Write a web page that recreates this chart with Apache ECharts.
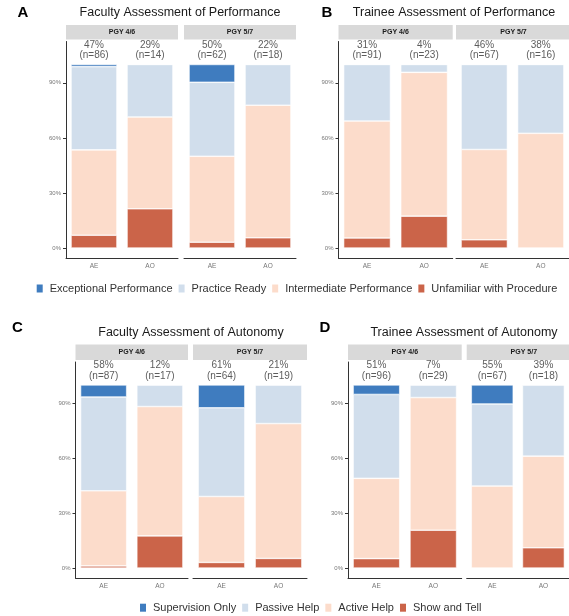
<!DOCTYPE html>
<html>
<head>
<meta charset="utf-8">
<script src="https://cdn.jsdelivr.net/npm/echarts@6/dist/echarts.min.js"></script>
<style>html,body{margin:0;padding:0;background:#fff}#c{width:569px;height:616px}</style>
</head>
<body>
<div id="c"></div>
<script>
// ---------- DATA ----------
const categories = ['AE', 'AO'];
const facets = ['PGY 4/6', 'PGY 5/7'];
const perfLevels = ['Exceptional Performance', 'Practice Ready', 'Intermediate Performance', 'Unfamiliar with Procedure'];
const autoLevels = ['Supervision Only', 'Passive Help', 'Active Help', 'Show and Tell'];
const yTicks = [0, 30, 60, 90];

// Panel A: Faculty Assessment of Performance (% per facet, [AE, AO])
const A_exceptional  = [[1.2, 0], [9.7, 0]];
const A_practice     = [[45.3, 28.6], [40.3, 22.2]];
const A_intermediate = [[46.5, 50.0], [46.8, 72.2]];
const A_unfamiliar   = [[7.0, 21.4], [3.2, 5.6]];
const A_pct = [[47, 29], [50, 22]];
const A_n   = [[86, 14], [62, 18]];

// Panel B: Trainee Assessment of Performance
const B_exceptional  = [[0, 0], [0, 0]];
const B_practice     = [[30.8, 4.3], [46.3, 37.5]];
const B_intermediate = [[63.7, 78.3], [49.2, 62.5]];
const B_unfamiliar   = [[5.5, 17.4], [4.5, 0]];
const B_pct = [[31, 4], [46, 38]];
const B_n   = [[91, 23], [67, 16]];

// Panel C: Faculty Assessment of Autonomy
const C_supervision = [[6.6, 0], [12.5, 0]];
const C_passive     = [[51.2, 11.8], [48.4, 21.1]];
const C_active      = [[41.0, 70.6], [36.0, 73.6]];
const C_show        = [[1.2, 17.6], [3.1, 5.3]];
const C_pct = [[58, 12], [61, 21]];
const C_n   = [[87, 17], [64, 19]];

// Panel D: Trainee Assessment of Autonomy
const D_supervision = [[5.2, 0], [10.4, 0]];
const D_passive     = [[45.8, 6.9], [44.8, 38.9]];
const D_active      = [[43.8, 72.4], [44.8, 50.0]];
const D_show        = [[5.2, 20.7], [0, 11.1]];
const D_pct = [[51, 7], [55, 39]];
const D_n   = [[96, 29], [67, 18]];

// ---------- STYLE / LAYOUT ----------
const FONT = '"Liberation Sans", Arial, Helvetica, sans-serif';
const levelColors = ['#3f7cbf', '#d1deec', '#fcdccb', '#cb6449'];

const panels = [
  { letter: 'A', title: 'Faculty Assessment of Performance', levels: perfLevels,
    values: [A_exceptional, A_practice, A_intermediate, A_unfamiliar], pct: A_pct, n: A_n,
    titleX: 180, titleY: 13, letterX: 23, letterY: 13, stripY: 25, stripH: 14.5,
    gridTop: 41.5, gridBottom: 258, facetX: [[66, 178], [184, 296]] },
  { letter: 'B', title: 'Trainee Assessment of Performance', levels: perfLevels,
    values: [B_exceptional, B_practice, B_intermediate, B_unfamiliar], pct: B_pct, n: B_n,
    titleX: 454, titleY: 13, letterX: 327, letterY: 13, stripY: 25, stripH: 14.5,
    gridTop: 41.5, gridBottom: 258, facetX: [[338.5, 452.7], [456, 571]] },
  { letter: 'C', title: 'Faculty Assessment of Autonomy', levels: autoLevels,
    values: [C_supervision, C_passive, C_active, C_show], pct: C_pct, n: C_n,
    titleX: 191, titleY: 333, letterX: 17.5, letterY: 328, stripY: 344.5, stripH: 15.5,
    gridTop: 362, gridBottom: 578, facetX: [[75.5, 188], [193, 307]] },
  { letter: 'D', title: 'Trainee Assessment of Autonomy', levels: autoLevels,
    values: [D_supervision, D_passive, D_active, D_show], pct: D_pct, n: D_n,
    titleX: 464, titleY: 333, letterX: 325, letterY: 328, stripY: 344.5, stripH: 15.5,
    gridTop: 362, gridBottom: 578, facetX: [[348, 461.7], [466.7, 581]] }
];

const grids = [], xAxes = [], yAxes = [], series = [], graphic = [];
let gi = 0;
panels.forEach(p => {
  graphic.push({ type: 'text', x: p.letterX, y: p.letterY,
    style: { text: p.letter, font: 'bold 15px ' + FONT, fill: '#000', align: 'center', verticalAlign: 'middle' } });
  graphic.push({ type: 'text', x: p.titleX, y: p.titleY,
    style: { text: p.title, font: '12.5px ' + FONT, fill: '#1a1a1a', align: 'center', verticalAlign: 'middle' } });
  p.facetX.forEach((fx, f) => {
    graphic.push({ type: 'rect', shape: { x: fx[0], y: p.stripY, width: fx[1] - fx[0], height: p.stripH },
      style: { fill: '#d9d9d9' }, silent: true });
    graphic.push({ type: 'text', x: (fx[0] + fx[1]) / 2, y: p.stripY + p.stripH / 2,
      style: { text: facets[f], font: 'bold 7px ' + FONT, fill: '#1a1a1a', align: 'center', verticalAlign: 'middle' } });
    grids.push({ left: fx[0], top: p.gridTop, width: fx[1] - fx[0], height: p.gridBottom - p.gridTop });
    xAxes.push({ gridIndex: gi, type: 'category', data: categories,
      axisLine: { onZero: false, lineStyle: { color: '#333', width: 1 } },
      axisTick: { alignWithLabel: true, length: 3, lineStyle: { color: '#333' } },
      axisLabel: { fontSize: 6.5, color: '#777', margin: 5, fontFamily: FONT } });
    yAxes.push({ gridIndex: gi, type: 'value', min: -5.4, max: 112.5, show: f === 0,
      splitLine: { show: false },
      axisLine: { show: true, lineStyle: { color: '#333', width: 1 } },
      axisTick: { show: true, length: 3, customValues: yTicks, lineStyle: { color: '#333' } },
      axisLabel: { customValues: yTicks, formatter: v => v + '%', fontSize: 6, color: '#777', margin: 5, fontFamily: FONT } });
    for (let k = 3; k >= 0; k--) {
      series.push({ type: 'bar', name: p.levels[k], xAxisIndex: gi, yAxisIndex: gi, stack: 's' + gi,
        barWidth: '82%', data: p.values[k][f],
        itemStyle: { color: levelColors[k], borderColor: '#fff', borderWidth: 0.6 } });
    }
    const pct = p.pct[f], nn = p.n[f];
    series.push({ type: 'scatter', name: 'lbl' + gi, xAxisIndex: gi, yAxisIndex: gi,
      symbolSize: 1, itemStyle: { color: 'rgba(0,0,0,0)' }, silent: true,
      data: categories.map(() => 100),
      label: { show: true, position: 'top', distance: 3, color: '#333', fontSize: 10, lineHeight: 10.5,
        fontFamily: FONT, align: 'center',
        formatter: prm => pct[prm.dataIndex] + '%\n(n=' + nn[prm.dataIndex] + ')' } });
    gi++;
  });
});

function legendCfg(names, left, top, gap) {
  return { data: names, left: left, top: top, padding: 0, orient: 'horizontal',
    itemWidth: 6, itemHeight: 8, itemGap: gap, icon: 'rect', selectedMode: false,
    itemStyle: { borderWidth: 0 },
    textStyle: { fontSize: 11, lineHeight: 12, color: '#333', fontFamily: FONT, padding: [0, 0, 0, 2] } };
}

const option = {
  animation: false,
  grid: grids, xAxis: xAxes, yAxis: yAxes, series: series, graphic: graphic,
  legend: [
    legendCfg(perfLevels, 36.7, 282.5, 6),
    legendCfg(autoLevels, 140, 601.7, 6)
  ]
};
const chart = echarts.init(document.getElementById('c'), null, { renderer: 'canvas' });
chart.setOption(option);
</script>
</body>
</html>
